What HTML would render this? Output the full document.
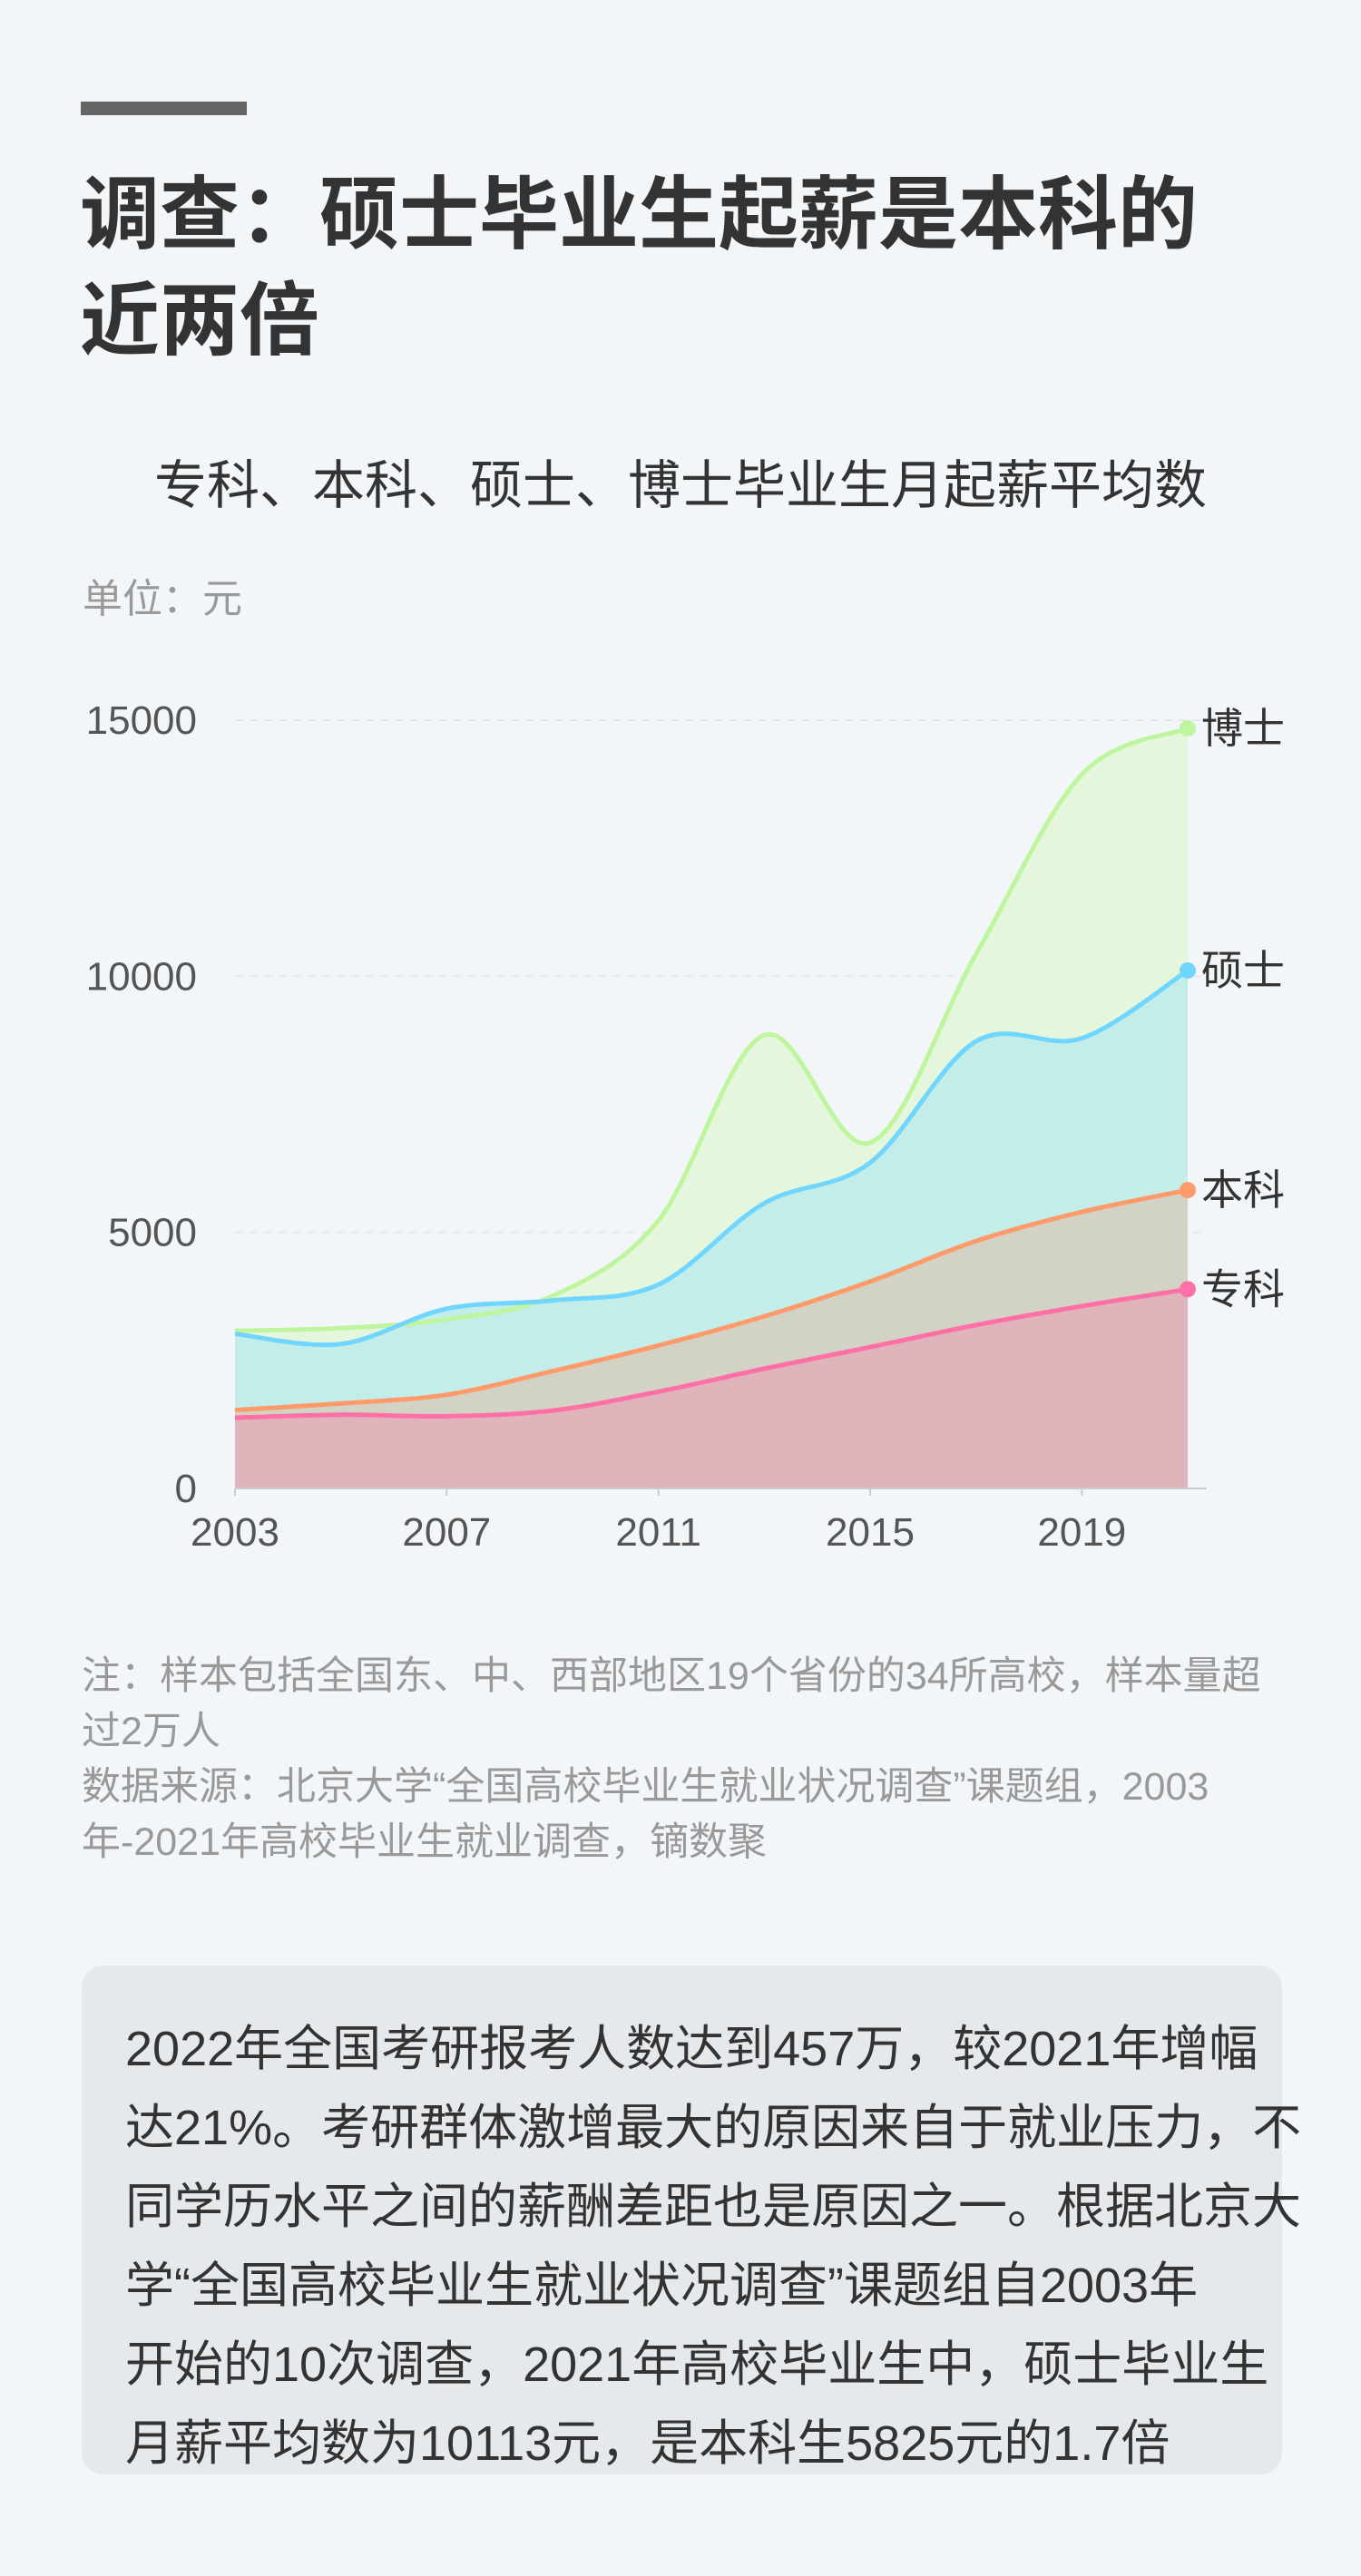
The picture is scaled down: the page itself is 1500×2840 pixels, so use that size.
<!DOCTYPE html>
<html><head><meta charset="utf-8">
<style>
body{margin:0;width:1500px;height:2840px;background:#f3f6f9;font-family:"Liberation Sans","Noto Sans CJK SC",sans-serif;position:relative;overflow:hidden}
.abs{position:absolute;margin:0}
</style></head><body>
<div class="abs" style="left:89px;top:112px;width:183px;height:15px;background:#666"></div>
<h1 class="abs" style="left:88px;top:178px;font-size:88px;line-height:117px;font-weight:bold;color:#333;width:1380px">调查：硕士毕业生起薪是本科的<br>近两倍</h1>
<div class="abs" style="left:0;width:1500px;top:502px;text-align:center;font-size:58px;line-height:68px;color:#333">专科、本科、硕士、博士毕业生月起薪平均数</div>
<div class="abs" style="left:91px;top:636px;font-size:44px;line-height:50px;color:#999">单位：元</div>
<svg class="abs" id="chart" style="left:0;top:0" width="1500" height="1760"></svg>
<div class="abs" style="left:90px;top:1818px;width:1340px;font-size:43px;line-height:61px;color:#999">注：样本包括全国东、中、西部地区19个省份的34所高校，样本量超<br>过2万人<br>数据来源：北京大学“全国高校毕业生就业状况调查”课题组，2003<br>年-2021年高校毕业生就业调查，镝数聚</div>
<div class="abs" style="left:90px;top:2167px;width:1323px;height:561px;background:#e6e9ec;border-radius:24px"></div>
<div class="abs" style="left:138px;top:2216px;font-size:54px;line-height:87px;color:#333;white-space:nowrap">2022年全国考研报考人数达到457万，较2021年增幅<br>达21%。考研群体激增最大的原因来自于就业压力，不<br>同学历水平之间的薪酬差距也是原因之一。根据北京大<br>学“全国高校毕业生就业状况调查”课题组自2003年<br>开始的10次调查，2021年高校毕业生中，硕士毕业生<br>月薪平均数为10113元，是本科生5825元的1.7倍</div>
<script>
const years=[2003,2005,2007,2009,2011,2013,2015,2017,2019,2021];
const zhuanke=[1380,1440,1410,1520,1890,2340,2760,3190,3560,3890];
const benke=[1530,1660,1830,2290,2790,3360,4040,4830,5400,5825];
const shuoshi=[3020,2820,3510,3670,3980,5570,6360,8730,8790,10113];
const boshi=[3080,3130,3300,3760,5230,8850,6750,10430,13940,14840];
const yTicks=[0,5000,10000,15000];
const xTicks=[2003,2007,2011,2015,2019];
const NS="http://www.w3.org/2000/svg";
const svg=document.getElementById('chart');
const X0=259,X1=1309,Y0=1641,Y1=794;
const xs=y=>X0+(y-2003)/(2021-2003)*(X1-X0);
const ys=v=>Y0-v/15000*(Y0-Y1);
function mk(t,a){const e=document.createElementNS(NS,t);for(const k in a)e.setAttribute(k,a[k]);svg.appendChild(e);return e;}
yTicks.forEach(t=>{
  if(t>0){const g=mk('line',{x1:259,x2:1330,y1:ys(t),y2:ys(t),stroke:'#e3e6ea','stroke-width':2,'stroke-dasharray':'8 8'});
  
  }
  const l=mk('text',{x:217,y:ys(t)+15,'text-anchor':'end','font-size':44,fill:'#555'});
  l.textContent=t;
  
  
});
function curve(vals){
  const p=years.map((y,i)=>[xs(y),ys(vals[i])]);
  let d='M'+p[0][0]+','+p[0][1];
  for(let i=0;i<p.length-1;i++){
    const a=p[Math.max(0,i-1)],b=p[i],c=p[i+1],e=p[Math.min(p.length-1,i+2)];
    const c1=[b[0]+(c[0]-a[0])/6,b[1]+(c[1]-a[1])/6],c2=[c[0]-(e[0]-b[0])/6,c[1]-(e[1]-b[1])/6];
    d+=` C${c1[0]},${c1[1]} ${c2[0]},${c2[1]} ${c[0]},${c[1]}`;
  }
  return d;
}
const series=[
 {n:'博士',v:boshi,fill:'#e4f7dc',line:'#c0f5a0',key:'boshi'},
 {n:'硕士',v:shuoshi,fill:'#c2ede8',line:'#70d6ff',key:'shuoshi'},
 {n:'本科',v:benke,fill:'#d3d3c5',line:'#ff9a6b',key:'benke'},
 {n:'专科',v:zhuanke,fill:'#e0b4bb',line:'#ff70a6',key:'zhuanke'}];
series.forEach(s=>{
  const c=curve(s.v);
  const a=mk('path',{d:c+` L${xs(2021)},${Y0} L${xs(2003)},${Y0} Z`,fill:s.fill});
  
  
});
series.forEach(s=>{
  const l=mk('path',{d:curve(s.v),fill:'none',stroke:s.line,'stroke-width':5});
  
  
  const last=s.v[s.v.length-1];
  const dot=mk('circle',{cx:xs(2021),cy:ys(last),r:9,fill:s.line});
  
  
  const t=mk('text',{x:1324,y:ys(last)+16,'font-size':46,fill:'#333'});
  t.textContent=s.n;
  
  
});
const ax=mk('line',{x1:259,x2:1330,y1:Y0,y2:Y0,stroke:'#ccc','stroke-width':2});


xTicks.forEach(y=>{
  const tk=mk('line',{x1:xs(y),x2:xs(y),y1:Y0,y2:Y0+8,stroke:'#ccc','stroke-width':2});
  
  
  const t=mk('text',{x:xs(y),y:1704,'text-anchor':'middle','font-size':44,fill:'#555'});
  t.textContent=y;
  
  
});
</script>
</body></html>
